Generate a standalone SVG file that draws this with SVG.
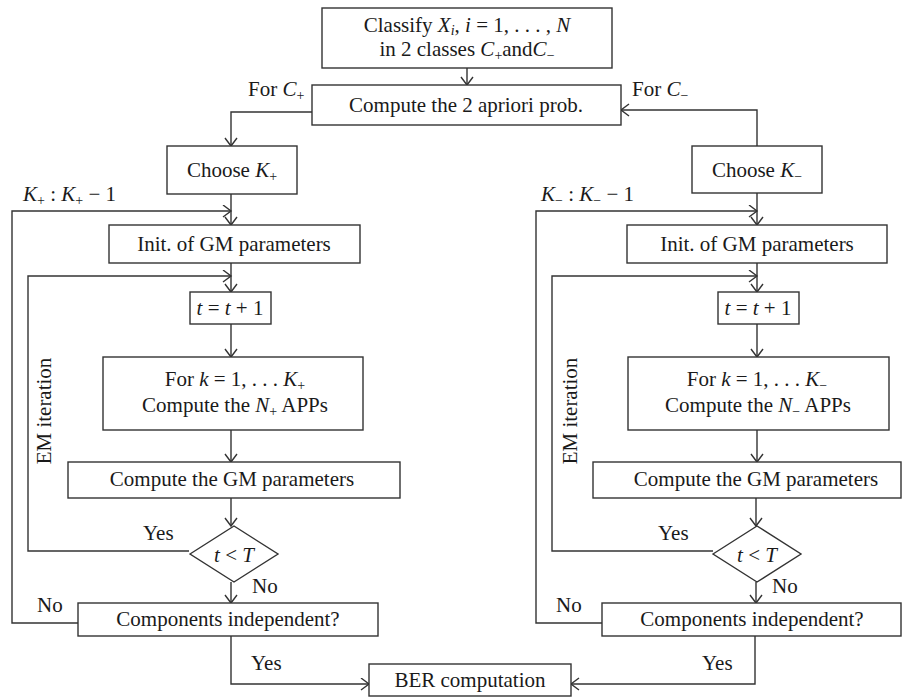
<svg xmlns="http://www.w3.org/2000/svg" width="906" height="698" viewBox="0 0 906 698">
<style>
text{font-family:"Liberation Serif","Times New Roman",serif;font-size:21px;fill:#1a1a1a}
.c{text-anchor:middle}
.i{font-style:italic}
.s{font-size:14px}
.box{fill:#fff;stroke:#333;stroke-width:1.4}
.ln{fill:none;stroke:#333;stroke-width:1.4}
.ar{marker-end:url(#ah)}
</style>
<defs>
<marker id="ah" markerUnits="userSpaceOnUse" markerWidth="12" markerHeight="14" refX="9" refY="6.5" orient="auto" viewBox="0 0 12 14">
<path d="M1,0.5 L9,6.5 L1,12.5" fill="none" stroke="#333" stroke-width="1.4"/>
</marker>
</defs>
<rect width="906" height="698" fill="#fff"/>
<g id="connectors">
<path class="ln ar" d="M467,68 V85"/>
<path class="ln ar" d="M312,112 H231 V146"/>
<path class="ln ar" d="M757,146 V110 H621"/>
<path class="ln ar" d="M231,194 V225"/>
<path class="ln ar" d="M757,193 V225"/>
<path class="ln ar" d="M78,623 H12 V211 H231"/>
<path class="ln ar" d="M602,623 H536 V211 H757"/>
<path class="ln ar" d="M231,263 V292"/>
<path class="ln ar" d="M757,263 V292"/>
<path class="ln ar" d="M189,551 H28 V276 H231"/>
<path class="ln ar" d="M713,551 H552 V276 H757"/>
<path class="ln ar" d="M231,324 V357"/>
<path class="ln ar" d="M757,324 V357"/>
<path class="ln ar" d="M231,430 V462"/>
<path class="ln ar" d="M757,430 V462"/>
<path class="ln ar" d="M231,498 V526"/>
<path class="ln ar" d="M756,498 V526"/>
<path class="ln ar" d="M231,582 V603"/>
<path class="ln ar" d="M756,582 V603"/>
<path class="ln ar" d="M231,636 V684 H369"/>
<path class="ln ar" d="M755,636 V684 H571"/>
</g>
<g id="labels">
<text x="248" y="96">For <tspan class="i">C</tspan><tspan class="s" dy="4">+</tspan></text>
<text x="632" y="96">For <tspan class="i">C</tspan><tspan class="s" dy="4">−</tspan></text>
<text x="23" y="201"><tspan class="i">K</tspan><tspan class="s" dy="4">+</tspan><tspan dy="-4"> : </tspan><tspan class="i">K</tspan><tspan class="s" dy="4">+</tspan><tspan dy="-4">  − 1</tspan></text>
<text x="541" y="201"><tspan class="i">K</tspan><tspan class="s" dy="4">−</tspan><tspan dy="-4"> : </tspan><tspan class="i">K</tspan><tspan class="s" dy="4">−</tspan><tspan dy="-4">  − 1</tspan></text>
<text x="143" y="540">Yes</text>
<text x="658" y="540">Yes</text>
<text x="252" y="593">No</text>
<text x="772" y="593">No</text>
<text x="37" y="612">No</text>
<text x="556" y="612">No</text>
<text x="251" y="670">Yes</text>
<text x="702" y="670">Yes</text>
<text class="c" transform="translate(51,411) rotate(-90)">EM iteration</text>
<text class="c" transform="translate(577,411) rotate(-90)">EM iteration</text>
</g>
<g id="classify">
<rect class="box" x="322" y="8" width="290" height="60"/>
<text class="c" x="467" y="32">Classify <tspan class="i">X</tspan><tspan class="s i" dy="3">i</tspan><tspan dy="-3">, </tspan><tspan class="i">i</tspan> = 1, . . . , <tspan class="i">N</tspan></text>
<text class="c" x="467" y="56">in 2 classes <tspan class="i">C</tspan><tspan class="s" dy="4">+</tspan><tspan dy="-4">and</tspan><tspan class="i">C</tspan><tspan class="s" dy="4">−</tspan></text>
</g>
<g id="apriori">
<rect class="box" x="312" y="85" width="309" height="40"/>
<text class="c" x="466" y="112">Compute the 2 apriori prob.</text>
</g>
<g id="chooseKp">
<rect class="box" x="167" y="146" width="130" height="48"/>
<text class="c" x="232" y="177">Choose <tspan class="i">K</tspan><tspan class="s" dy="4">+</tspan></text>
</g>
<g id="chooseKm">
<rect class="box" x="692" y="146" width="130" height="47"/>
<text class="c" x="757" y="177">Choose <tspan class="i">K</tspan><tspan class="s" dy="4">−</tspan></text>
</g>
<g id="initP">
<rect class="box" x="109" y="225" width="251" height="38"/>
<text class="c" x="234" y="251">Init. of GM parameters</text>
</g>
<g id="initM">
<rect class="box" x="627" y="225" width="260" height="38"/>
<text class="c" x="757" y="251">Init. of GM parameters</text>
</g>
<g id="tP">
<rect class="box" x="190" y="292" width="81" height="32"/>
<text class="c" x="230" y="315"><tspan class="i">t</tspan> = <tspan class="i">t</tspan> + 1</text>
</g>
<g id="tM">
<rect class="box" x="718" y="292" width="81" height="32"/>
<text class="c" x="758" y="315"><tspan class="i">t</tspan> = <tspan class="i">t</tspan> + 1</text>
</g>
<g id="forP">
<rect class="box" x="103" y="357" width="260" height="73"/>
<text class="c" x="235" y="386">For <tspan class="i">k</tspan> = 1, . . . <tspan class="i">K</tspan><tspan class="s" dy="4">+</tspan></text>
<text class="c" x="235" y="412">Compute the <tspan class="i">N</tspan><tspan class="s" dy="4">+</tspan><tspan dy="-4"> APPs</tspan></text>
</g>
<g id="forM">
<rect class="box" x="628" y="357" width="261" height="73"/>
<text class="c" x="757" y="386">For <tspan class="i">k</tspan> = 1, . . . <tspan class="i">K</tspan><tspan class="s" dy="4">−</tspan></text>
<text class="c" x="758" y="412">Compute the <tspan class="i">N</tspan><tspan class="s" dy="4">−</tspan><tspan dy="-4"> APPs</tspan></text>
</g>
<g id="gmP">
<rect class="box" x="68" y="462" width="332" height="36"/>
<text class="c" x="232" y="486">Compute the GM parameters</text>
</g>
<g id="gmM">
<rect class="box" x="593" y="462" width="308" height="36"/>
<text class="c" x="756" y="486">Compute the GM parameters</text>
</g>
<g id="diaP">
<polygon class="box" points="190,554 234,526 278,554 234,582"/>
<text class="c" x="234" y="562"><tspan class="i">t</tspan> &lt; <tspan class="i">T</tspan></text>
</g>
<g id="diaM">
<polygon class="box" points="713,554 757,526 801,554 757,582"/>
<text class="c" x="757" y="562"><tspan class="i">t</tspan> &lt; <tspan class="i">T</tspan></text>
</g>
<g id="compP">
<rect class="box" x="78" y="603" width="300" height="33"/>
<text class="c" x="228" y="626">Components independent?</text>
</g>
<g id="compM">
<rect class="box" x="602" y="603" width="299" height="33"/>
<text class="c" x="752" y="626">Components independent?</text>
</g>
<g id="ber">
<rect class="box" x="369" y="664" width="202" height="32"/>
<text class="c" x="470" y="687">BER computation</text>
</g>
</svg>
